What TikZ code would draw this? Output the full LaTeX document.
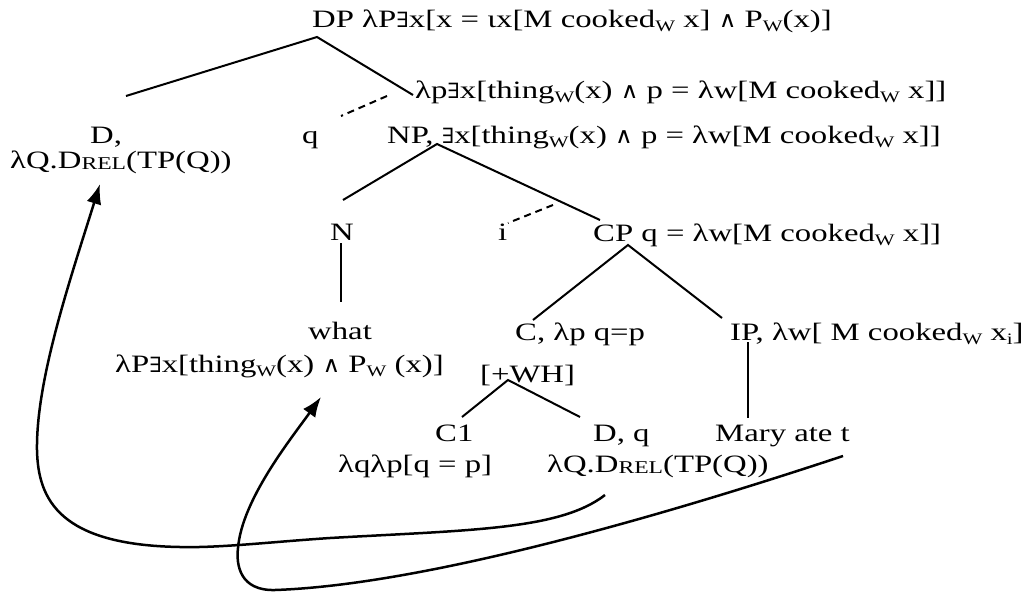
\documentclass[tikz,border=0pt]{standalone}
\usepackage{fontspec}
\setmainfont{Liberation Serif}[FakeStretch=1.31]
\newfontfamily\symf{DejaVu Serif}[FakeStretch=1.1]
\usetikzlibrary{arrows.meta}
\newcommand\sw{\raisebox{-4pt}{\fontsize{16}{16}\selectfont W}}
\newcommand\subi{\raisebox{-4pt}{\fontsize{16}{16}\selectfont i}}
\newcommand\rel{\raisebox{-1pt}{\fontsize{18}{18}\selectfont REL}}
\newcommand\ex{{\symf\fontsize{21}{24}\selectfont ∃}}
\newcommand\an{{\symf\fontsize{22}{24}\selectfont ∧}}
\begin{document}
\begin{tikzpicture}[x=1pt,y=-1pt,
  lbl/.style={inner sep=0pt, anchor=base west, font=\fontsize{25}{28}\selectfont},
  edge/.style={line width=2pt},
  dsh/.style={line width=2pt, dash pattern=on 7pt off 5pt},
  mv/.style={line width=2.5pt, -{Latex[length=20pt,width=15pt]}}]
\useasboundingbox (0,0) rectangle (1026,592);
% labels
\node[lbl] (dp) at (312,27) {DP λP\ex x[x = ιx[M cooked\sw{} x] \an{} P\sw{}(x)]};
\node[lbl] (lp) at (415,98) {λp\ex x[thing\sw{}(x) \an{} p = λw[M cooked\sw{} x]]};
\node[lbl] (d) at (90,143) {D,};
\node[lbl] (q) at (302,143) {q};
\node[lbl] (np) at (387,143) {NP, \ex x[thing\sw{}(x) \an{} p = λw[M cooked\sw{} x]]};
\node[lbl] (dsem) at (10,168) {λQ.D\rel{}(TP(Q))};
\node[lbl] (n) at (330,240) {N};
\node[lbl] (i) at (498,240) {i};
\node[lbl] (cp) at (593,241) {CP q = λw[M cooked\sw{} x]]};
\node[lbl] (what) at (308,339) {what};
\node[lbl] (c) at (515,340) {C, λp q=p};
\node[lbl] (ip) at (730,340) {IP, λw[ M cooked\sw{} x\subi{}]};
\node[lbl] (wsem) at (115,372) {λP\ex x[thing\sw{}(x) \an{} P\sw{} (x)]};
\node[lbl] (wh) at (480,382) {[+WH]};
\node[lbl] (c1) at (435,441) {C1};
\node[lbl] (dq) at (593,441) {D, q};
\node[lbl] (mary) at (715,441) {Mary ate t};
\node[lbl] (c1sem) at (338,472) {λqλp[q = p]};
\node[lbl] (dqsem) at (547,472) {λQ.D\rel{}(TP(Q))};
% attachment points
\coordinate (dpB) at (317,37);
\coordinate (dT) at (126,96);
\coordinate (lpT) at (413,95);
\coordinate (lpD) at (387,96);
\coordinate (qT) at (341,116);
\coordinate (npB) at (437,144);
\coordinate (nT) at (343,200);
\coordinate (cpT) at (600,220);
\coordinate (cpD) at (553,205);
\coordinate (iT) at (508,223);
\coordinate (nB) at (341,243);
\coordinate (whatT) at (341,302);
\coordinate (cpB) at (628,245);
\coordinate (cT) at (533,320);
\coordinate (ipT) at (722,318);
\coordinate (ipB) at (748,342);
\coordinate (maryT) at (748,418);
\coordinate (whB) at (508,380);
\coordinate (c1T) at (462,417);
\coordinate (dqT) at (580,417);
\coordinate (dqS) at (605,495);
\coordinate (maryS) at (843,456);
\coordinate (dTip) at (100,184);
\coordinate (wTip) at (321,397);
% tree edges
\draw[edge] (dT) -- (dpB) -- (lpT);
\draw[dsh] (lpD) -- (qT);
\draw[edge] (nT) -- (npB) -- (cpT);
\draw[dsh] (cpD) -- (iT);
\draw[edge] (nB) -- (whatT);
\draw[edge] (cT) -- (cpB) -- (ipT);
\draw[edge] (ipB) -- (maryT);
\draw[edge] (c1T) -- (whB) -- (dqT);
% movement arrows
\draw[mv] (dqS) .. controls (560,530) and (470,530) .. (330,538)
  .. controls (270,542) and (220,548) .. (180,547)
  .. controls (60,545) and (38,500) .. (37,450)
  .. controls (36,380) and (70,280) .. (dTip);
\draw[mv] (maryS) .. controls (650,520) and (420,585) .. (275,590)
  .. controls (240,591) and (236,565) .. (238,548)
  .. controls (242,500) and (290,440) .. (wTip);
\end{tikzpicture}
\end{document}
